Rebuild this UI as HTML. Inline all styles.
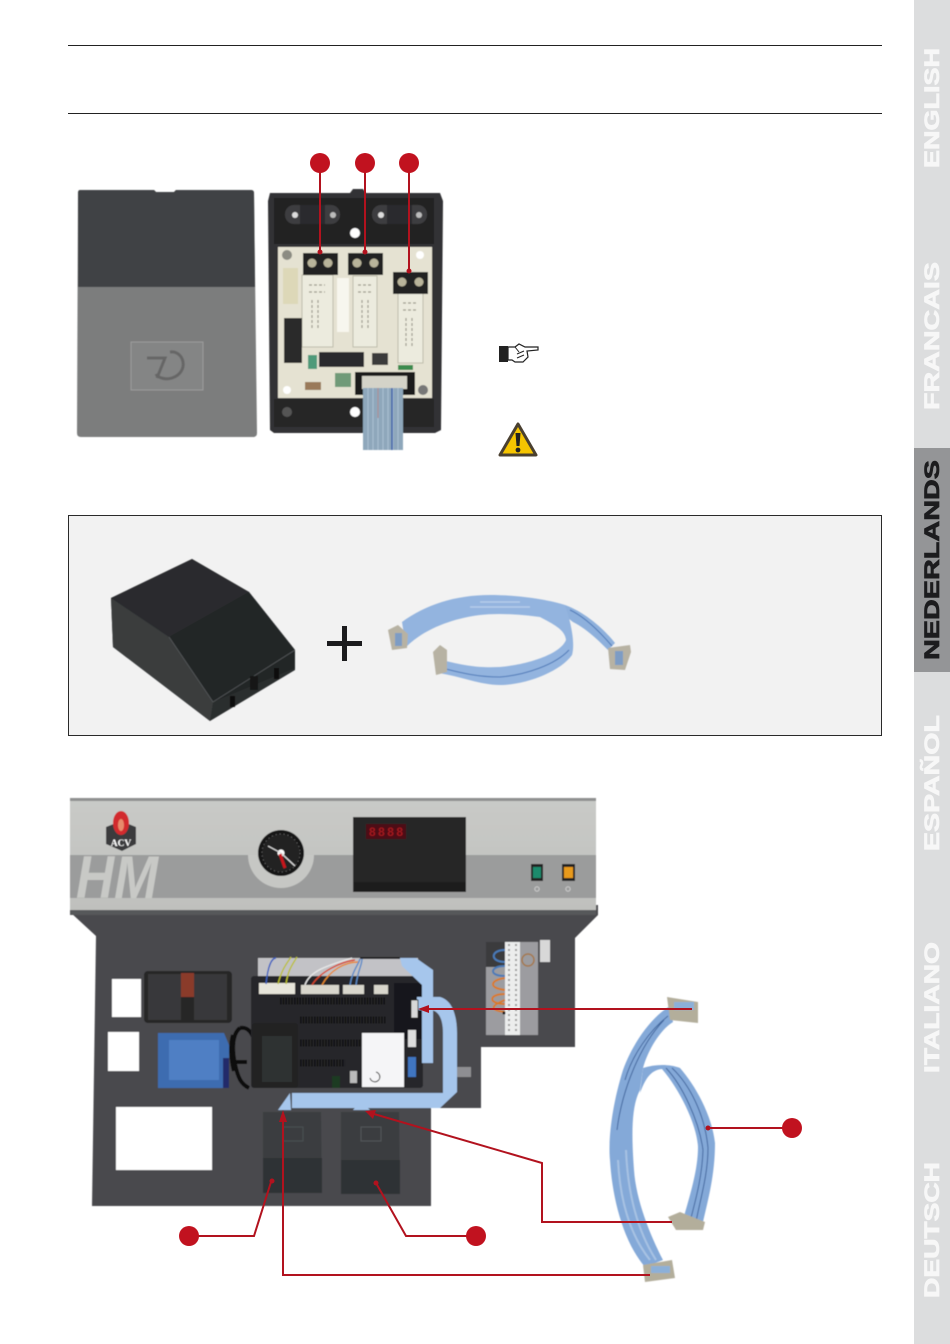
<!DOCTYPE html>
<html><head><meta charset="utf-8"><style>
html,body{margin:0;padding:0;background:#fff}
svg{display:block}
text{font-family:"Liberation Sans",sans-serif}
</style></head><body>
<svg width="950" height="1344" viewBox="0 0 950 1344" xmlns="http://www.w3.org/2000/svg">
<defs>
<linearGradient id="panel" x1="0" y1="0" x2="0" y2="1"><stop offset="0" stop-color="#c9cac7"/><stop offset="1" stop-color="#bfc0bd"/></linearGradient>
<linearGradient id="rb" x1="0" y1="0" x2="1" y2="0"><stop offset="0" stop-color="#7ea5d6"/><stop offset=".5" stop-color="#a0bfe3"/><stop offset="1" stop-color="#7ea5d6"/></linearGradient>
<filter id="s"><feGaussianBlur stdDeviation=".4"/></filter>
</defs>

<!-- rules -->
<rect x="68" y="45" width="814" height="1" fill="#222"/>
<rect x="68" y="113" width="814" height="1" fill="#222"/>

<!-- sidebar -->
<rect x="914" y="0" width="36" height="1344" fill="#dcddde"/>
<rect x="914" y="448" width="36" height="224" fill="#949597"/>
<g font-weight="700" font-size="21" stroke-width=".7">
<text transform="translate(939,168) rotate(-90)" fill="#f7f7f7" stroke="#f7f7f7" textLength="120" lengthAdjust="spacingAndGlyphs">ENGLISH</text>
<text transform="translate(939,410) rotate(-90)" fill="#f7f7f7" stroke="#f7f7f7" textLength="148" lengthAdjust="spacingAndGlyphs">FRANCAIS</text>
<text transform="translate(939,660) rotate(-90)" fill="#1c1c1e" stroke="#1c1c1e" textLength="200" lengthAdjust="spacingAndGlyphs">NEDERLANDS</text>
<text transform="translate(939,851) rotate(-90)" fill="#f7f7f7" stroke="#f7f7f7" textLength="136" lengthAdjust="spacingAndGlyphs">ESPAÑOL</text>
<text transform="translate(939,1073) rotate(-90)" fill="#f7f7f7" stroke="#f7f7f7" textLength="131" lengthAdjust="spacingAndGlyphs">ITALIANO</text>
<text transform="translate(939,1298) rotate(-90)" fill="#f7f7f7" stroke="#f7f7f7" textLength="136" lengthAdjust="spacingAndGlyphs">DEUTSCH</text>
</g>

<!-- cover -->
<g filter="url(#s)">
<path d="M80,190H154l2,2h18l2,-2H251q3,0 3,3L257,433q0,4 -4,4H81q-4,0 -4,-4L78,193q0,-3 2,-3z" fill="#7c7d7d"/>
<path d="M80,190H154l2,2h18l2,-2H251q3,0 3,3L255,287H78L78,193q0,-3 2,-3z" fill="#3f4244"/>
<rect x="131" y="342" width="72" height="48" fill="#848585" stroke="#9b9c9c"/>
<path d="M147,358h18l-8,20M170,352c14,-2 20,20 2,26c-6,2 -14,0 -16,-4" fill="none" stroke="#666" stroke-width="3"/>
</g>
<!-- box with PCB -->
<g filter="url(#s)">
<path d="M270,193H350l3,-4h10l3,4H440l3,8L441,430l-6,3H274l-4,-3L268,201z" fill="#333335"/>
<rect x="274" y="198" width="160" height="46" fill="#222224"/>
<rect x="285" y="205" width="55" height="19" rx="9" fill="#3d3d3f"/>
<rect x="372" y="205" width="55" height="19" rx="9" fill="#3d3d3f"/>
<rect x="300" y="205" width="25" height="19" fill="#2b2b2d"/><rect x="387" y="205" width="25" height="19" fill="#2b2b2d"/>
<circle cx="295" cy="215" r="3" fill="#ddd"/><circle cx="333" cy="215" r="3" fill="#bbb"/><circle cx="381" cy="215" r="3" fill="#ddd"/><circle cx="419" cy="215" r="3" fill="#bbb"/>
<circle cx="355" cy="233" r="5" fill="#fff"/>
<rect x="278" y="247" width="154" height="151" fill="#e5e2d2"/>
<rect x="274" y="399" width="160" height="28" fill="#262628"/>
<circle cx="355" cy="412" r="5" fill="#fff"/>
<circle cx="287" cy="412" r="5" fill="#555"/>
<circle cx="287" cy="255" r="5" fill="#8b8b82"/><circle cx="420" cy="255" r="4" fill="#fff"/><circle cx="287" cy="390" r="4" fill="#fff"/><circle cx="423" cy="390" r="5" fill="#777"/>
<!-- relays -->
<rect x="302" y="275" width="31" height="72" fill="#ecebde" stroke="#bdbbaa"/>
<rect x="353" y="276" width="24" height="71" fill="#ecebde" stroke="#bdbbaa"/>
<rect x="398" y="293" width="25" height="70" fill="#ecebde" stroke="#bdbbaa"/>
<path d="M309,285h16M309,292h16M312,300v30M318,300v30M358,285h13M358,292h13M362,300v30M368,300v30M403,303h14M403,310h14M406,318v30M412,318v30" stroke="#9a988c" stroke-width="1.2" stroke-dasharray="3 2" fill="none"/>
<rect x="337" y="278" width="12" height="54" fill="#f7f6ee"/>
<rect x="283" y="268" width="15" height="36" fill="#ddd8b8"/>
<!-- terminals -->
<rect x="303" y="253" width="35" height="22" fill="#232322"/>
<rect x="348" y="253" width="35" height="22" fill="#232322"/>
<rect x="393" y="272" width="35" height="22" fill="#232322"/>
<g fill="#b9b49a"><circle cx="312" cy="263" r="4.5"/><circle cx="328" cy="263" r="4.5"/><circle cx="357" cy="263" r="4.5"/><circle cx="374" cy="263" r="4.5"/><circle cx="402" cy="282" r="4.5"/><circle cx="419" cy="282" r="4.5"/></g>
<!-- ICs -->
<rect x="284" y="318" width="18" height="45" fill="#2a2a2c"/>
<rect x="319" y="352" width="45" height="15" fill="#2c2c2e"/>
<rect x="308" y="355" width="9" height="14" fill="#4f9a7a"/>
<rect x="372" y="353" width="16" height="12" fill="#3a3a3a"/>
<rect x="335" y="373" width="16" height="14" fill="#6f9a78"/>
<rect x="305" y="382" width="16" height="8" fill="#9a7a5a"/>
<rect x="398" y="365" width="15" height="5" fill="#3b8b4e"/>
<rect x="355" y="372" width="60" height="23" fill="#1c1c1e"/>
<rect x="362" y="376" width="45" height="13" fill="#d4d3c8"/>
<!-- ribbon -->
<rect x="363" y="388" width="40" height="62" fill="#8ea7bb"/>
<g stroke-width="1">
<path d="M368,388v62M373,388v62M378,388v62M383,388v62M388,388v62M393,388v62M398,388v62" stroke="#a9bfd2"/>
<path d="M392,388v62" stroke="#3a5fa8" stroke-width="1.5"/><path d="M378,388v30" stroke="#b08a90"/>
</g>
</g>

<!-- hand -->
<g>
<rect x="499" y="346" width="9" height="16" fill="#222"/>
<path d="M508,347l7,0l4,-3l6,3l13,0l0,3l-11,1l1,6l-5,5l-8,0l-3,-2h-4z" fill="#fff" stroke="#222" stroke-width="1.2"/>
<path d="M515,347l4,5M517,354l7,-3M517,358l7,-3" stroke="#222" stroke-width="1" fill="none"/>
</g>
<!-- warning -->
<path d="M518,424L536,455H500z" fill="#f6c500" stroke="#4a4030" stroke-width="3" stroke-linejoin="round"/>
<path d="M515.5,433h5l-1,13h-3z" fill="#222"/><circle cx="518" cy="450" r="2.4" fill="#222"/>

<!-- bordered box -->
<rect x="68.5" y="515.5" width="813" height="220" fill="#f2f2f2" stroke="#2a2a2a"/>
<g filter="url(#s)">
<path d="M111,598L192,559L249,592L295,650V670L210,721L113,647z" fill="#2c2e2f"/>
<path d="M111,598L192,559L249,592L169,637z" fill="#2a2c2d"/>
<path d="M169,637L249,592L295,650V668L213,702z" fill="#232526"/>
<path d="M111,598L169,637L213,702L210,721L113,647z" fill="#3a3c3d"/>
<path d="M169,637L213,702L295,650" stroke="#55585a" stroke-width=".8" fill="none"/>
<rect x="230" y="696" width="5" height="11" fill="#0b0b0b"/><rect x="274" y="668" width="5" height="11" fill="#0b0b0b"/><rect x="250" y="676" width="8" height="14" fill="#151515"/>
</g>
<rect x="327" y="641" width="35" height="5" fill="#1c1c1e"/>
<rect x="342" y="626" width="5" height="35" fill="#1c1c1e"/>
<g filter="url(#s)">
<path d="M565,605C585,612 605,630 615,643L608,650C595,637 585,628 573,622L560,612z" fill="#8eb0dc"/>
<path d="M402,622C425,605 455,595 490,595C520,595 550,600 565,605C572,625 575,645 572,655C560,672 525,685 500,685C480,685 460,676 438,673L442,660C465,666 480,668 500,667C525,665 560,655 566,640C565,630 555,625 540,617C520,614 495,613 480,615C455,618 425,628 406,647z" fill="#93b4df"/>
<path d="M442,668C465,674 480,677 500,677C525,675 555,665 569,650M570,610C585,617 600,632 612,646" fill="none" stroke="#4e79b8" stroke-width="1"/>
<path d="M480,602H520M470,607H530" stroke="#b5cce9" stroke-width="1.5" fill="none"/>
<path d="M388,630L398,625L408,634L407,648L392,650z" fill="#b7b2a3"/>
<rect x="395" y="633" width="7" height="13" fill="#7d9cc4"/>
<path d="M433,652L440,645L447,650L447,672L436,675z" fill="#b7b2a3"/>
<path d="M608,648L630,645L631,652L625,670L610,669z" fill="#b7b2a3"/>
<rect x="615" y="651" width="8" height="14" fill="#7d9cc4"/>
</g>

<!-- control panel -->
<g filter="url(#s)">
<path d="M70,912L96,936L92,1206H431V1108H481V1047H575V938L598,915V905H70z" fill="#4a4a4e"/>
<rect x="70" y="799" width="526" height="114" fill="url(#panel)"/>
<rect x="70" y="798" width="526" height="3" fill="#8f9090"/>
<rect x="70" y="855" width="526" height="43" fill="#9b9c9c"/>
<rect x="70" y="910" width="526" height="5" fill="#57585a"/>
<path d="M248,855A33,33 0 0 0 314,855z" fill="#c6c7c4"/>
<circle cx="281" cy="853" r="23" fill="#131315"/>
<circle cx="281" cy="853" r="19" fill="#222" stroke="#666" stroke-dasharray="1 3"/>
<circle cx="281" cy="853" r="3.5" fill="#fff"/>
<path d="M268,846L281,853M295,866L281,853" stroke="#ddd" stroke-width="1.2"/>
<path d="M280,854l5,14" stroke="#c8161e" stroke-width="3"/>
<!-- logo -->
<path d="M106,827L121,821L136,827V844L122,851L106,844z" fill="#3a3b3d"/>
<ellipse cx="121" cy="823" rx="8" ry="12" fill="#d22c2e"/>
<ellipse cx="121" cy="825" rx="3" ry="6" fill="#e88a6c"/>
<text x="121" y="846" text-anchor="middle" font-size="9.5" font-weight="700" fill="#fff" style="font-family:'Liberation Serif',serif">ACV</text>
<!-- HM -->
<text x="76" y="898" font-size="60" font-weight="700" font-style="italic" fill="#c8c9c6" textLength="82" lengthAdjust="spacingAndGlyphs">HM</text>
<!-- display -->
<rect x="353" y="817" width="113" height="75" fill="#262628"/>
<rect x="354" y="882" width="112" height="10" fill="#1a1a1c"/>
<rect x="366" y="824" width="40" height="15" fill="#4e1116"/>
<text x="369" y="836" font-size="12" font-weight="700" fill="#a2141e" textLength="34">8888</text>
<!-- switches -->
<rect x="531" y="864" width="12" height="17" fill="#222"/><rect x="533" y="867" width="8" height="11" fill="#1a8a6c"/>
<rect x="562" y="864" width="13" height="17" fill="#222"/><rect x="564" y="867" width="9" height="11" fill="#e89a1a"/>
<circle cx="537" cy="889" r="2.2" fill="none" stroke="#ccc"/><circle cx="568" cy="889" r="2.2" fill="none" stroke="#ccc"/>
<!-- whites -->
<rect x="112" y="979" width="29" height="38" fill="#fff"/>
<rect x="108" y="1032" width="31" height="39" fill="#fff"/>
<rect x="116" y="1107" width="96" height="63" fill="#fff"/>
<!-- module -->
<rect x="144" y="971" width="88" height="52" rx="4" fill="#252527"/>
<rect x="148" y="974" width="33" height="46" fill="#39393b"/>
<rect x="194" y="974" width="33" height="46" fill="#39393b"/>
<rect x="181" y="973" width="13" height="24" fill="#8a3a2a"/>
<!-- transformer -->
<path d="M158,1033H224L229,1045V1088H158z" fill="#3d6cb0"/>
<rect x="169" y="1040" width="50" height="40" fill="#4f7fc4"/>
<rect x="223" y="1058" width="6" height="30" fill="#232a6a"/>
<!-- cable coil -->
<path d="M240,1028c-8,6 -8,22 -5,36c3,14 6,20 14,24M240,1028c10,-2 16,10 14,22M235,1062h12M233,1035c-3,10 -2,25 1,36" fill="none" stroke="#111" stroke-width="4"/>
<!-- wiring bg -->
<rect x="258" y="958" width="160" height="22" fill="#c2c2c6"/>
<!-- controller -->
<rect x="251" y="976" width="172" height="112" rx="3" fill="#27282b"/>
<rect x="252" y="1023" width="46" height="65" rx="3" fill="#202124"/>
<rect x="262" y="1036" width="30" height="46" fill="#2f3033"/>
<g stroke="#0b0b0c" stroke-width="7" stroke-dasharray="1.4 1.4" fill="none">
<path d="M280,1001H386M300,1020H386M300,1043H362M300,1063H345"/>
</g>
<rect x="259" y="983" width="36" height="11" fill="#e7e5da"/>
<rect x="301" y="985" width="38" height="9" fill="#d8d6cc"/>
<rect x="343" y="985" width="21" height="9" fill="#d8d6cc"/>
<rect x="374" y="985" width="14" height="9" fill="#d8d6cc"/>
<rect x="394" y="983" width="30" height="56" fill="#15161a"/>
<rect x="362" y="1033" width="42" height="54" fill="#f5f5f7"/>
<path d="M370,1078a5,5 0 1 0 6,-6" fill="none" stroke="#333"/>
<rect x="350" y="1071" width="7" height="12" fill="#bbb"/>
<rect x="332" y="1076" width="8" height="12" fill="#1f3a20"/>
<rect x="408" y="1030" width="8" height="17" fill="#ddd"/>
<rect x="408" y="1057" width="8" height="20" fill="#3f75c0"/>
<!-- wires -->
<g fill="none" stroke-width="1.4">
<path d="M266,984C268,965 272,958 276,958" stroke="#3a5fc0"/>
<path d="M278,984C282,968 288,962 291,957M286,984C288,970 292,965 297,957" stroke="#bcc02c"/>
<path d="M305,985C310,970 330,965 352,958" stroke="#e8e8e8"/>
<path d="M312,985C320,972 340,962 355,960" stroke="#d8452c"/>
<path d="M322,985C330,970 345,962 358,962" stroke="#e8882c"/>
<path d="M350,985C352,972 358,965 360,959M356,985C358,970 362,965 362,959" stroke="#5a8ac8"/>
<path d="M360,958H400" stroke="#222" stroke-width="2"/>
</g>
<!-- flat ribbons -->
<path d="M400,958H416L433,970V1063H422V985L402,966z" fill="#a6c6ec"/>
<path d="M417,997H440C452,1000 457,1015 457,1033V1092L440,1108H292V1093H443V1033C443,1018 438,1010 430,1010H417z" fill="#a6c6ec"/>
<path d="M290,1093L278,1110H291z" fill="#a6c6ec"/>
<path d="M361,1101L353,1110H370z" fill="#a6c6ec"/>
<rect x="411" y="1000" width="7" height="18" fill="#d8d8d8" stroke="#222"/>
<rect x="457" y="1067" width="14" height="10" fill="#8e8e92"/>
<!-- covers -->
<path d="M263,1112H321L322,1193H263z" fill="#3a3d40"/>
<path d="M263,1158H322V1193H263z" fill="#2d3034"/>
<path d="M341,1112H399L400,1194H341z" fill="#3a3d40"/>
<path d="M341,1160H400V1194H341z" fill="#2f3236"/>
<rect x="361" y="1127" width="20" height="14" fill="none" stroke="#53565a"/>
<rect x="283" y="1127" width="20" height="14" fill="none" stroke="#4c4f52"/>
<!-- terminal block -->
<rect x="486" y="942" width="52" height="93" fill="#9c9ca0"/>
<rect x="486" y="942" width="20" height="25" fill="#3a3a3c"/>
<rect x="505" y="942" width="15" height="93" fill="#eceded"/>
<path d="M509,944V1032M516,944V1032" stroke="#999" stroke-dasharray="2 3" stroke-width="2"/>
<path d="M505,950C490,950 490,962 505,962M505,966C490,966 488,976 505,976" fill="none" stroke="#4a7ab8" stroke-width="2"/>
<path d="M505,978C490,980 488,988 505,990M505,994C488,994 488,1004 505,1004M505,1000C492,1005 488,1010 505,1012" fill="none" stroke="#d87a28" stroke-width="2"/>
<circle cx="528" cy="960" r="6" fill="none" stroke="#a5784a" stroke-width="1.5"/>
<rect x="540" y="940" width="10" height="22" fill="#d8d8d8"/>
<circle cx="504" cy="1013" r="1.5" fill="#111"/>
</g>

<!-- big ribbon -->
<g filter="url(#s)">
<path d="M643,1068C655,1064 670,1064 680,1068C695,1085 712,1115 715,1143C715,1175 708,1200 703,1222L683,1220C690,1195 698,1170 698,1147C697,1125 680,1090 662,1069C650,1070 645,1080 640,1093z" fill="#84a9d8"/>
<path d="M670,1006C650,1018 632,1045 623,1070C612,1105 608,1140 610,1160C612,1195 622,1240 645,1267L663,1260C650,1235 636,1200 634,1170C631,1130 632,1105 640,1090L643,1068C648,1050 660,1030 673,1022z" fill="#84a9d8"/>
<path d="M617,1130C622,1090 640,1045 664,1020M625,1080C632,1055 650,1030 668,1016M672,1068C690,1085 705,1115 708,1148C708,1175 700,1200 696,1222M666,1068C682,1085 699,1120 703,1150C702,1180 694,1205 690,1222" fill="none" stroke="#43689f" stroke-width="1"/>
<path d="M618,1160C620,1200 630,1235 650,1260M626,1150C628,1200 640,1235 656,1260" fill="none" stroke="#a7c2e3" stroke-width="2"/>
<path d="M667,997L698,1002L698,1023L670,1020z" fill="#b3ae9b"/>
<rect x="674" y="1002" width="20" height="8" fill="#8cb0d8"/>
<path d="M668,1217L680,1212L705,1222L703,1230L676,1230z" fill="#b3ae9b"/>
<path d="M643,1265L672,1260L675,1278L645,1282z" fill="#b3ae9b"/>
<rect x="651" y="1266" width="19" height="7" fill="#8cb0d8"/>
</g>

<!-- red connectors -->
<g stroke="#b2121e" stroke-width="2" fill="none">
<path d="M320,163V252M365,163V252M409,163V271"/>
<path d="M692,1009H424"/>
<path d="M650,1275H283V1122"/>
<path d="M672,1222H542V1163L374,1114"/>
<path d="M189,1236H254L271,1182"/>
<path d="M476,1236H406L376,1183"/>
<path d="M792,1128H708"/>
</g>
<g fill="#b2121e">
<path d="M418,1009L429,1005V1013z"/>
<path d="M283,1110L279,1122H287z"/>
<path d="M365,1111L376,1110L373,1119z"/>
<circle cx="320" cy="252" r="2.5"/><circle cx="365" cy="252" r="2.5"/><circle cx="409" cy="271" r="2.5"/>
<circle cx="272" cy="1181" r="2.5"/><circle cx="376" cy="1183" r="2.5"/><circle cx="708" cy="1128" r="2.5"/>
</g>
<g fill="#c1121f">
<circle cx="320" cy="163" r="10"/><circle cx="365" cy="163" r="10"/><circle cx="409" cy="163" r="10"/>
<circle cx="792" cy="1128" r="10"/><circle cx="189" cy="1236" r="10"/><circle cx="476" cy="1236" r="10"/>
</g>
</svg>
</body></html>
